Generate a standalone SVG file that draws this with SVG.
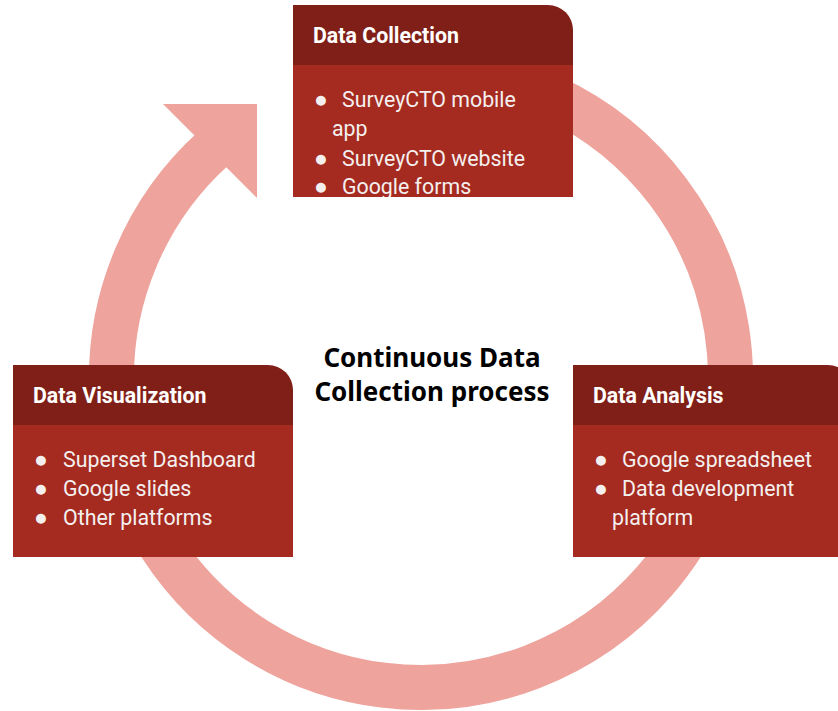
<svg xmlns="http://www.w3.org/2000/svg" width="838" height="711" viewBox="0 0 838 711">
<style>
.hd{fill:#801F17}
.bd{fill:#A52A20}
.ht{font-family:Roboto,"Liberation Sans",sans-serif;font-weight:bold;font-size:21.33px;fill:#ffffff}
.bt{font-family:Roboto,"Liberation Sans",sans-serif;font-size:21.33px;fill:#f4f0ef}
.bu{font-family:"Liberation Sans",sans-serif;font-size:23px}
.ct{font-family:"Noto Sans","Open Sans",sans-serif;font-weight:bold;font-size:26px;fill:#000000;text-anchor:middle}
</style>
<defs>
<clipPath id="clipTop"><rect x="293" y="65" width="280" height="132"/></clipPath>
</defs>
<rect width="838" height="711" fill="#ffffff"/>
<g id="connectors">
<path d="M421 68.5 A309.5 309.5 0 1 1 213.9 148" fill="none" stroke="#EEA39C" stroke-width="45"/>
<polygon points="163,104 257,104 257,198" fill="#EEA39C"/>
</g>
<g id="data-collection">
<path class="hd" d="M293 5 H548 A25 25 0 0 1 573 30 V66 H293 Z"/>
<rect class="bd" x="293" y="65" width="280" height="132"/>
<text class="ht" x="313" y="43">Data Collection</text>
<text class="bt" x="314" y="107"><tspan class="bu">●</tspan><tspan x="342">SurveyCTO mobile</tspan></text>
<text class="bt" x="332" y="136">app</text>
<text class="bt" x="314" y="166"><tspan class="bu">●</tspan><tspan x="342">SurveyCTO website</tspan></text>
<text class="bt" x="314" y="194" clip-path="url(#clipTop)"><tspan class="bu">●</tspan><tspan x="342">Google forms</tspan></text>
</g>
<g id="data-visualization">
<path class="hd" d="M13 365 H268 A25 25 0 0 1 293 390 V426 H13 Z"/>
<rect class="bd" x="13" y="425" width="280" height="132"/>
<text class="ht" x="33" y="403">Data Visualization</text>
<text class="bt" x="34" y="467"><tspan class="bu">●</tspan><tspan x="63">Superset Dashboard</tspan></text>
<text class="bt" x="34" y="496"><tspan class="bu">●</tspan><tspan x="63">Google slides</tspan></text>
<text class="bt" x="34" y="525"><tspan class="bu">●</tspan><tspan x="63">Other platforms</tspan></text>
</g>
<g id="data-analysis">
<path class="hd" d="M573 365 H828 A25 25 0 0 1 853 390 V426 H573 Z"/>
<rect class="bd" x="573" y="425" width="280" height="132"/>
<text class="ht" x="593" y="403">Data Analysis</text>
<text class="bt" x="594" y="467"><tspan class="bu">●</tspan><tspan x="622">Google spreadsheet</tspan></text>
<text class="bt" x="594" y="496"><tspan class="bu">●</tspan><tspan x="622">Data development</tspan></text>
<text class="bt" x="612" y="525">platform</text>
</g>
<g id="center-label">
<text class="ct" x="432" y="367">Continuous Data</text>
<text class="ct" x="432" y="401">Collection process</text>
</g>
</svg>
